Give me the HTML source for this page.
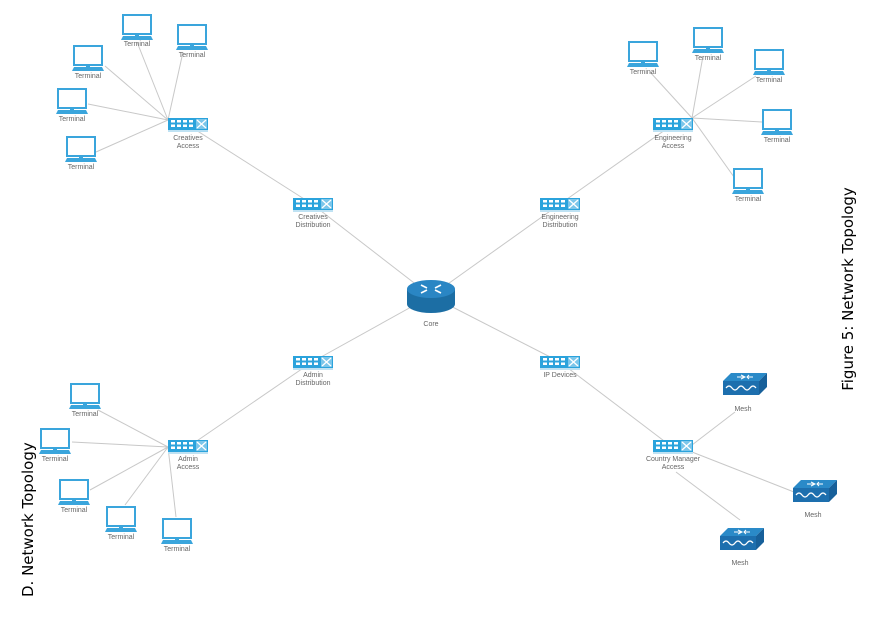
<!DOCTYPE html>
<html><head><meta charset="utf-8"><style>
html,body{margin:0;padding:0;background:#fff;width:875px;height:617px;overflow:hidden}
svg text{font-family:"Liberation Sans",sans-serif;font-size:7px;fill:#666;text-anchor:middle}
</style></head><body>
<svg width="875" height="617" viewBox="0 0 875 617" xmlns="http://www.w3.org/2000/svg">
<defs>
<symbol id="term" viewBox="0 0 32 28" width="32" height="28" overflow="visible">
<rect x="2" y="1" width="28" height="19" fill="#fff" stroke="#3aa5dc" stroke-width="2"/>
<rect x="14" y="20" width="4" height="2" fill="#3aa5dc"/>
<path d="M2 22 H30 L32 26 H0 Z" fill="#3aa5dc"/>
</symbol>
<symbol id="sw" viewBox="0 0 40 14" width="40" height="14" overflow="visible">
<rect x="0" y="0" width="40" height="12" fill="#2ba3dc"/>
<rect x="0" y="12" width="40" height="2" fill="#bfe2f3"/>
<g fill="#fff">
<rect x="3" y="2" width="4" height="2.5"/><rect x="9" y="2" width="4" height="2.5"/><rect x="15" y="2" width="4" height="2.5"/><rect x="21" y="2" width="4" height="2.5"/>
<rect x="3" y="6.5" width="4" height="2.5"/><rect x="9" y="6.5" width="4" height="2.5"/><rect x="15" y="6.5" width="4" height="2.5"/><rect x="21" y="6.5" width="4" height="2.5"/>
</g>
<rect x="28" y="1" width="11" height="10" fill="#7cc6ea"/>
<path d="M29 2 L38 10 M38 2 L29 10" stroke="#fff" stroke-width="1.3"/>
</symbol>
<symbol id="mesh" viewBox="0 0 44 24" width="44" height="24" overflow="visible">
<path d="M8 0 H44 L36 8 H0 Z" fill="#2a8ac8"/>
<path d="M0 8 H36 V22 H0 Z" fill="#1d6fae"/>
<path d="M36 8 L44 0 V14 L36 22 Z" fill="#17609a"/>
<path d="M14 4 H22 M18 2 L22 4 L18 6 M30 4 H24 M26 2 L24 4 L26 6" stroke="#fff" stroke-width="1" fill="none"/>
<path d="M3 15 q3 -4 6 0 q3 4 6 0 q3 -4 6 0 q3 4 6 0 q3 -4 6 0" stroke="#fff" stroke-width="1.2" fill="none"/>
</symbol>
</defs>
<g stroke="#c8c8c8" stroke-width="1" fill="none">
<!-- backbone -->
<line x1="188" y1="125" x2="312" y2="204"/>
<line x1="312" y1="204" x2="431" y2="296"/>
<line x1="672" y1="125" x2="560" y2="204"/>
<line x1="560" y1="204" x2="431" y2="296"/>
<line x1="431" y1="296" x2="312" y2="362"/>
<line x1="312" y1="362" x2="188" y2="447"/>
<line x1="431" y1="296" x2="560" y2="362"/>
<line x1="560" y1="362" x2="672" y2="447"/>
<!-- creatives terminals -->
<line x1="168" y1="120" x2="137" y2="42"/>
<line x1="168" y1="120" x2="183" y2="52"/>
<line x1="168" y1="120" x2="105" y2="66"/>
<line x1="168" y1="120" x2="88" y2="104"/>
<line x1="168" y1="120" x2="96" y2="152"/>
<!-- eng terminals -->
<line x1="692" y1="118" x2="650" y2="72"/>
<line x1="692" y1="118" x2="703" y2="56"/>
<line x1="692" y1="118" x2="756" y2="76"/>
<line x1="692" y1="118" x2="762" y2="122"/>
<line x1="692" y1="118" x2="734" y2="177"/>
<!-- admin terminals -->
<line x1="168" y1="447" x2="98" y2="410"/>
<line x1="168" y1="447" x2="72" y2="442"/>
<line x1="168" y1="447" x2="90" y2="490"/>
<line x1="168" y1="447" x2="125" y2="505"/>
<line x1="168" y1="447" x2="176" y2="517"/>
<!-- mesh -->
<line x1="692" y1="445" x2="735" y2="412"/>
<line x1="692" y1="452" x2="794" y2="492"/>
<line x1="676" y1="472" x2="740" y2="520"/>
</g>
<!-- terminals -->
<g>
<use href="#term" x="121" y="14"/><text x="137" y="46">Terminal</text>
<use href="#term" x="176" y="24"/><text x="192" y="57">Terminal</text>
<use href="#term" x="72" y="45"/><text x="88" y="78">Terminal</text>
<use href="#term" x="56" y="88"/><text x="72" y="121">Terminal</text>
<use href="#term" x="65" y="136"/><text x="81" y="169">Terminal</text>
<use href="#term" x="627" y="41"/><text x="643" y="74">Terminal</text>
<use href="#term" x="692" y="27"/><text x="708" y="60">Terminal</text>
<use href="#term" x="753" y="49"/><text x="769" y="82">Terminal</text>
<use href="#term" x="761" y="109"/><text x="777" y="142">Terminal</text>
<use href="#term" x="732" y="168"/><text x="748" y="201">Terminal</text>
<use href="#term" x="69" y="383"/><text x="85" y="416">Terminal</text>
<use href="#term" x="39" y="428"/><text x="55" y="461">Terminal</text>
<use href="#term" x="58" y="479"/><text x="74" y="512">Terminal</text>
<use href="#term" x="105" y="506"/><text x="121" y="539">Terminal</text>
<use href="#term" x="161" y="518"/><text x="177" y="551">Terminal</text>
</g>
<!-- switches -->
<use href="#sw" x="168" y="118"/><text x="188" y="140">Creatives</text><text x="188" y="148">Access</text>
<use href="#sw" x="293" y="198"/><text x="313" y="219">Creatives</text><text x="313" y="227">Distribution</text>
<use href="#sw" x="540" y="198"/><text x="560" y="219">Engineering</text><text x="560" y="227">Distribution</text>
<use href="#sw" x="653" y="118"/><text x="673" y="140">Engineering</text><text x="673" y="148">Access</text>
<use href="#sw" x="293" y="356"/><text x="313" y="377">Admin</text><text x="313" y="385">Distribution</text>
<use href="#sw" x="540" y="356"/><text x="560" y="377">IP Devices</text>
<use href="#sw" x="168" y="440"/><text x="188" y="461">Admin</text><text x="188" y="469">Access</text>
<use href="#sw" x="653" y="440"/><text x="673" y="461">Country Manager</text><text x="673" y="469">Access</text>
<!-- core -->
<g>
<path d="M407 289 V304 A24 9 0 0 0 455 304 V289 Z" fill="#1c6ea4"/>
<ellipse cx="431" cy="289" rx="24" ry="9" fill="#2a86c4"/>
<path d="M421 285 L427 288 M441 285 L435 288 M421 293 L427 290 M441 293 L435 290" stroke="#fff" stroke-width="1.6"/>
<text x="431" y="326">Core</text>
</g>
<!-- mesh -->
<use href="#mesh" x="723" y="373"/><text x="743" y="411">Mesh</text>
<use href="#mesh" x="793" y="480"/><text x="813" y="517">Mesh</text>
<use href="#mesh" x="720" y="528"/><text x="740" y="565">Mesh</text>
<!-- captions -->
<text transform="translate(853,289) rotate(-90)" style="font-size:15px;fill:#000;font-family:'DejaVu Sans','Liberation Sans',sans-serif">Figure 5: Network Topology</text>
<text transform="translate(33,597) rotate(-90)" style="font-size:15px;fill:#000;text-anchor:start;font-family:'DejaVu Sans','Liberation Sans',sans-serif">D.  Network Topology</text>
</svg>
</body></html>
